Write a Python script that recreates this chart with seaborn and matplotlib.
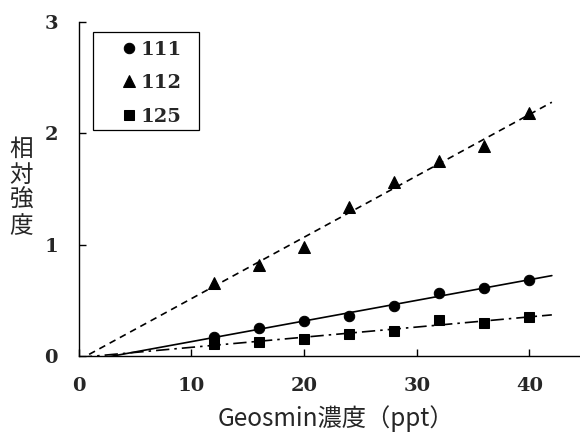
import numpy as np
import pandas as pd
import matplotlib
matplotlib.use("Agg")
import matplotlib.pyplot as plt
import matplotlib.patches as mpatches
import seaborn as sns

conc = [12, 16, 20, 24, 28, 32, 36, 40]
s111 = [0.17, 0.255, 0.31, 0.36, 0.45, 0.565, 0.615, 0.68]
s112 = [0.66, 0.82, 0.98, 1.34, 1.56, 1.75, 1.89, 2.18]
s125 = [0.108, 0.13, 0.156, 0.20, 0.225, 0.32, 0.30, 0.35]
series_names = ["111", "112", "125"]
xticks = [0, 10, 20, 30, 40]
yticks = [0, 1, 2, 3]

sns.set_theme(style="white")
plt.rcParams['font.family'] = ['Noto Sans CJK JP', 'DejaVu Sans']

fig = plt.figure(figsize=(5.8, 4.36), dpi=100)
ax = fig.add_axes([0.136, 0.1835, 0.864, 0.766])

markers = {"111": "o", "112": "^", "125": "s"}
msize = {"111": 7.5, "112": 9, "125": 7.5}
styles = {"111": "-", "112": (0, (4, 3)), "125": (0, (8, 3, 1.5, 3))}
data = {"111": s111, "112": s112, "125": s125}

xfit = np.array([0, 42])
for name in series_names:
    y = np.array(data[name])
    df = pd.DataFrame({"x": conc, "y": y})
    sns.lineplot(data=df, x="x", y="y", ax=ax, marker=markers[name],
                 markersize=msize[name], color="black", linestyle="none",
                 markeredgecolor="black", label=name)
    k, b = np.polyfit(conc, y, 1)
    fdf = pd.DataFrame({"x": xfit, "y": k * xfit + b})
    sns.lineplot(data=fdf, x="x", y="y", ax=ax, color="black", lw=1.2,
                 linestyle=styles[name], legend=False)

ax.set_xlim(0, 44.5)
ax.set_ylim(0, 3)
ax.set_xticks(xticks)
ax.set_yticks(yticks)
for s in ["top", "right"]:
    ax.spines[s].set_visible(False)
for s in ["left", "bottom"]:
    ax.spines[s].set_color("black")
    ax.spines[s].set_linewidth(1.0)
ax.tick_params(direction="in", length=5, width=1, color="black",
               left=True, bottom=True, pad=15)
for lab in ax.get_xticklabels() + ax.get_yticklabels():
    lab.set_family(["DejaVu Serif"])
    lab.set_fontweight("bold")
    lab.set_fontsize(14)
ax.set_xlabel("Geosmin濃度（ppt）", fontsize=17.5)
ax.xaxis.set_label_coords(0.512, -0.188)
ax.xaxis.label.set_va("center")
ax.set_ylabel("")
fig.text(0.037, 0.569, "相\n対\n強\n度", fontsize=17, ha="center", va="center",
         linespacing=1.14)

# legend frame
rect = mpatches.Rectangle((0.028, 0.677), 0.2115, 0.293, transform=ax.transAxes,
                          fill=True, facecolor="white", edgecolor="black",
                          lw=0.9, zorder=5)
ax.add_patch(rect)
handles, labels = ax.get_legend_handles_labels()
leg = ax.legend(handles[:3], labels[:3], loc="upper left",
                bbox_to_anchor=(0.078, 0.955), frameon=False,
                borderaxespad=0, handlelength=0.7, handletextpad=0.25,
                borderpad=0.2, labelspacing=0.79,
                prop={"family": "DejaVu Serif", "weight": "bold", "size": 14})
leg.set_zorder(6)

fig.savefig("out.png", dpi=100)
